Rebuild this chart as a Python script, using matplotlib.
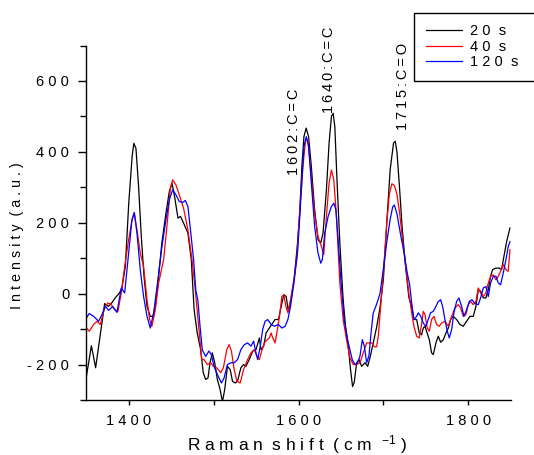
import matplotlib
matplotlib.use('Agg')
import matplotlib.pyplot as plt
from matplotlib.ticker import MultipleLocator, FuncFormatter

plt.rcParams['font.family'] = ['Liberation Sans', 'DejaVu Sans']
plt.rcParams['mathtext.fontset'] = 'custom'
plt.rcParams['mathtext.rm'] = 'Liberation Sans'
plt.rcParams['mathtext.default'] = 'regular'

# espectros (Raman shift en cm-1, intensidad en u.a.)
shift_20 = [1350, 1356, 1361, 1371.6, 1376, 1380, 1384, 1389, 1392, 1396, 1400, 1404, 1406, 1408.5,
            1411.6, 1414.8, 1418, 1421.5, 1425.4, 1428.5, 1431.3, 1435.2, 1439, 1443.8, 1447.8, 1450.9,
            1454, 1458, 1461, 1464.6, 1469.7, 1473.7, 1477, 1480.7, 1484.7, 1487.8, 1490.6, 1493.4,
            1495.7, 1498.5, 1501.3, 1504.4, 1507.6, 1510.4, 1513.1, 1516.3, 1519.5, 1522.2, 1525.4,
            1528.2, 1532.1, 1535.3, 1538, 1542, 1546, 1549.9, 1553.9, 1555.8, 1559, 1561.8, 1564.5,
            1568.5, 1572.4, 1576.4, 1579.6, 1582.7, 1585.5, 1588, 1591, 1595, 1598.5, 1601.2, 1604,
            1606.4, 1609, 1611.9, 1615.1, 1619, 1623, 1626.2, 1628.9, 1632.9, 1636, 1638.8, 1640.8,
            1642.8, 1645.5, 1648.7, 1652.6, 1655.4, 1658.6, 1661.3, 1663.7, 1665.7, 1668.5, 1671.2,
            1674.4, 1678.4, 1681.5, 1684.3, 1688, 1692, 1696, 1700, 1704, 1708, 1712, 1714, 1716, 1719,
            1722, 1726, 1730, 1733.3, 1736, 1739.2, 1742.3, 1745, 1747, 1749, 1754.1, 1756.8, 1758.8,
            1761.9, 1764.7, 1767.4, 1770.6, 1773.7, 1776.5, 1779.2, 1782.3, 1786.3, 1790.2, 1794.1,
            1798.1, 1802, 1805.9, 1809, 1811.8, 1814.5, 1817.7, 1820.8, 1823.6, 1826.3, 1828.7, 1832.6,
            1836.5, 1839.3, 1842, 1845.2, 1849.1]
int_20 = [-235, -147, -209, -28, -36, -26, -12, 2, 16, 77, 255, 387, 424, 410,
          302, 161, 49, -36, -64, -64, -36, 49, 143, 227, 288, 312,
          274, 213, 218, 199, 171, 96, -45, -111, -158, -223, -242, -238,
          -195, -167, -195, -242, -270, -305, -270, -205, -214, -247, -252,
          -247, -209, -200, -205, -186, -162, -158, -125, -158, -148, -111, -101,
          -87, -73, -73, -36, -3, -8, -50, -20, 45, 133, 218, 359,
          443, 467, 443, 359, 237, 152, 143, 171, 293, 424, 500, 509,
          471, 312, 143, -17, -92, -148, -214, -262, -250, -195, -186,
          -205, -195, -205, -180, -140, -95, -40, 40, 200, 350, 425, 430, 400, 300,
          190, 80, -10, -36, -73, -73, -111, -116, -97, -92, -130, -167, -172,
          -139, -120, -137, -130, -111, -97, -73, -64, -73, -87, -92,
          -78, -64, -64, -36, 11, 7, -12, -12, 11, 49, 68, 72,
          72, 68, 105, 147, 185]

shift_40 = [1350, 1353.5, 1358.6, 1362.6, 1366.5, 1371.6, 1375.5, 1379.4, 1383.4, 1387.3, 1391.2,
            1395.2, 1399.9, 1403.8, 1406.5, 1409.7, 1413.6, 1417.5, 1421.5, 1424.6, 1427.3, 1431.3,
            1435.2, 1441.1, 1445, 1448.9, 1451.7, 1455.6, 1459.5, 1464.6, 1469.7, 1474.5, 1478, 1482,
            1486, 1488.6, 1492.6, 1496.5, 1499.7, 1503.6, 1508.4, 1511.5, 1515.5, 1518.3, 1521, 1524.2,
            1527.4, 1531.3, 1535.3, 1540, 1544, 1547.9, 1551.1, 1553.9, 1556.6, 1559.8, 1563, 1565.7,
            1567.7, 1569.7, 1572.4, 1574.8, 1577.6, 1580.4, 1582.7, 1585.1, 1587.5, 1590.6, 1594.6,
            1598, 1601.2, 1605.2, 1608.4, 1611.1, 1615.1, 1619, 1623, 1627, 1629.7, 1632.9, 1636,
            1638.8, 1641.6, 1644.7, 1648.7, 1652.6, 1656.6, 1660.6, 1664.5, 1668.5, 1672.4, 1676.4,
            1680.3, 1683.1, 1686.3, 1689.4, 1692, 1694, 1696, 1700, 1704, 1707, 1710, 1713, 1716, 1719,
            1722, 1726, 1730, 1733.3, 1736, 1739.2, 1742.3, 1745, 1747, 1749, 1751.7, 1754.1, 1756.8,
            1759.6, 1762.7, 1765.8, 1768.6, 1772.5, 1776.5, 1780.4, 1784.3, 1788.2, 1791, 1794.1,
            1797.3, 1800, 1802.8, 1805.9, 1809, 1811.8, 1814.5, 1817.7, 1820.8, 1823.6, 1826.3,
            1829.5, 1832.6, 1835.4, 1838.1, 1841.2, 1844.4, 1847.1, 1849.1]
int_40 = [-97, -106, -87, -78, -87, -40, -26, -31, -45, -50, 2,
          77, 152, 208, 227, 180, 114, 77, -17, -73, -92, -45,
          30, 96, 190, 293, 321, 307, 279, 241, 180, 96, 20, -83,
          -186, -186, -200, -195, -205, -209, -223, -209, -158, -144, -162, -214,
          -247, -252, -214, -186, -167, -158, -177, -186, -162, -139, -130, -125,
          -111, -125, -139, -106, -64, -8, -3, -36, -54, -17, 39,
          100, 227, 359, 434, 434, 330, 227, 161, 133, 110, 218, 312,
          349, 321, 218, 30, -73, -130, -181, -200, -200, -195, -167,
          -139, -139, -139, -150, -150, -120, -60, 60, 200, 280, 310, 305, 280, 230,
          165, 85, 0, -54, -92, -120, -125, -87, -50, -59, -97, -106, -73,
          -64, -87, -92, -83, -78, -92, -64, -40, -31, -40, -64,
          -59, -31, -22, -31, -22, 16, 2, -8, 2, 30, 49,
          53, 39, 49, 63, 82, 68, 63, 124]

shift_120 = [1350, 1353.5, 1358.6, 1364.5, 1368.5, 1372.4, 1376.3, 1381, 1386.1, 1391.2, 1395.2,
             1399.9, 1403.8, 1406.5, 1409.7, 1413.6, 1417.5, 1421.5, 1425.4, 1429.3, 1434.4, 1439.1,
             1443.8, 1447.8, 1451.7, 1455.6, 1459.5, 1463.5, 1466.6, 1469.7, 1472.5, 1476.4, 1479,
             1481.5, 1484, 1486.6, 1490.6, 1494.5, 1497.3, 1500.5, 1504.4, 1509.2, 1512.3, 1516.3,
             1520.2, 1524.2, 1528.2, 1532.1, 1536.1, 1540, 1544, 1547.1, 1549.9, 1551.9, 1555, 1557.8,
             1560.6, 1563.7, 1567.7, 1571.7, 1576.4, 1580.4, 1584.3, 1587.5, 1590.6, 1594.6, 1599,
             1603.2, 1606.4, 1609.2, 1611.9, 1615.1, 1619, 1623, 1626.2, 1628.1, 1630.9, 1634.9,
             1638.8, 1641.6, 1644, 1646.7, 1649.9, 1653.8, 1657.8, 1660.6, 1663.3, 1666.5, 1669.7,
             1672.4, 1675.2, 1677.6, 1680.3, 1683, 1685.5, 1688, 1692, 1696, 1700, 1704, 1708, 1711,
             1713, 1716, 1720, 1724, 1728, 1731, 1733.3, 1736, 1739.2, 1741.1, 1744, 1747, 1750.1,
             1752.9, 1755.6, 1758.8, 1761.9, 1764.7, 1767.4, 1769.8, 1772.5, 1775.3, 1777.6, 1780.4,
             1783.1, 1786.3, 1789, 1792.2, 1794.9, 1798.1, 1801.2, 1804.3, 1807.9, 1811.8, 1814.5,
             1817.7, 1820.8, 1823.6, 1826.3, 1829.5, 1832.6, 1835.4, 1838.1, 1841.2, 1844.4, 1847.1,
             1849.1]
int_120 = [-69, -56, -64, -78, -59, -36, -47, -36, -53, 16, 2,
           114, 208, 229, 171, 67, -8, -64, -97, -55, 40, 133,
           208, 265, 293, 279, 260, 257, 263, 246, 185, 96, 10,
           -20, -92, -158, -177, -162, -172, -205, -228, -252, -238, -200,
           -195, -195, -186, -158, -144, -139, -148, -134, -167, -186, -148, -101,
           -78, -73, -87, -92, -87, -97, -92, -73, -36, 30, 120,
           284, 415, 443, 415, 312, 190, 114, 86, 96, 171, 218,
           246, 255, 237, 152, 39, -73, -130, -158, -186, -200, -195,
           -176, -130, -148, -195, -175, -110, -55, -30, 0, 70, 145, 210, 245,
           250, 225, 170, 120, 60, 25, -26, -73, -64, -54, -64, -83, -92,
           -73, -54, -50, -36, -22, -17, -36, -73, -106, -125, -101,
           -54, -22, -12, -36, -64, -45, -22, -17, -28, -31, -12,
           16, 20, -8, 30, 49, 49, 30, 25, 58, 96, 133,
           147]

series_labels = ['20 s', '40 s', '120 s']
series_colors = ['black', 'red', 'blue']

# bandas asignadas: (posicion del texto, altura, etiqueta)
band_x = [1595, 1635.5, 1723]
band_y = [336, 510, 463]
band_text = ['1602:C=C', '1640:C=C', '1715:C=O']

THIN = '\u2009'


def sp(s, sep=' '):
    # texto con letras separadas, como en la figura original
    return sep.join(s)


W, H = 534, 455
fig = plt.figure(figsize=(W / 100, H / 100), dpi=100)
ax = fig.add_axes([86.3 / W, 1 - 400 / H, (510.7 - 86.3) / W, (400 - 45.5) / H])

for xs, ys, lab, col in zip([shift_20, shift_40, shift_120], [int_20, int_40, int_120],
                            series_labels, series_colors):
    ax.plot(xs, ys, color=col, lw=0.9, label=sp(lab).replace('   ', '  '))

ax.set_xlim(1350, 1850)
ax.set_ylim(-300, 700)
ax.spines['top'].set_visible(False)
ax.spines['right'].set_visible(False)
ax.spines['left'].set_linewidth(1.0)
ax.spines['bottom'].set_linewidth(1.0)

ax.xaxis.set_major_locator(MultipleLocator(200))
ax.xaxis.set_minor_locator(MultipleLocator(100))
ax.yaxis.set_major_locator(MultipleLocator(200))
ax.yaxis.set_minor_locator(MultipleLocator(100))
fmt = FuncFormatter(lambda v, p: sp(f'{v:.0f}'))
ax.xaxis.set_major_formatter(fmt)
ax.yaxis.set_major_formatter(fmt)
ax.tick_params(axis='x', which='both', direction='out', length=3.3, width=1.0, pad=6.5, labelsize=10.5)
ax.tick_params(axis='y', which='major', direction='out', length=5.8, width=1.0, pad=6.5, labelsize=10.5)
ax.tick_params(axis='y', which='minor', direction='out', length=4.1, width=1.0)

for bx, by, bt in zip(band_x, band_y, band_text):
    ax.text(bx, by, sp(bt, THIN), rotation=90, ha='center', va='bottom', fontsize=10.5)

fig.text(17.5 / W, 1 - 235.5 / H, sp('Intensity') + '  ' + sp('(a.u.)'), rotation=90,
         ha='center', va='center', fontsize=10.3)
fig.text(297 / W, 1 - 450.5 / H, sp('Raman') + '  ' + sp('shift') + '  ' + '( c m  $^{-1}$ )',
         ha='center', va='baseline', fontsize=12.5)

# la leyenda sobresale por la derecha, como en el original
leg_top = 1 - 12.7 / H
leg = fig.legend(loc='upper left', bbox_to_anchor=(414.3 / W, leg_top - 0.3, 140 / W, 0.3),
                 mode='expand', fontsize=10.5, frameon=True, fancybox=False, edgecolor='black',
                 framealpha=1, handlelength=2.5, handletextpad=0.5, borderpad=0.8,
                 labelspacing=0.1, borderaxespad=0)
leg.get_frame().set_linewidth(1.0)

fig.savefig('out.png', dpi=100)
